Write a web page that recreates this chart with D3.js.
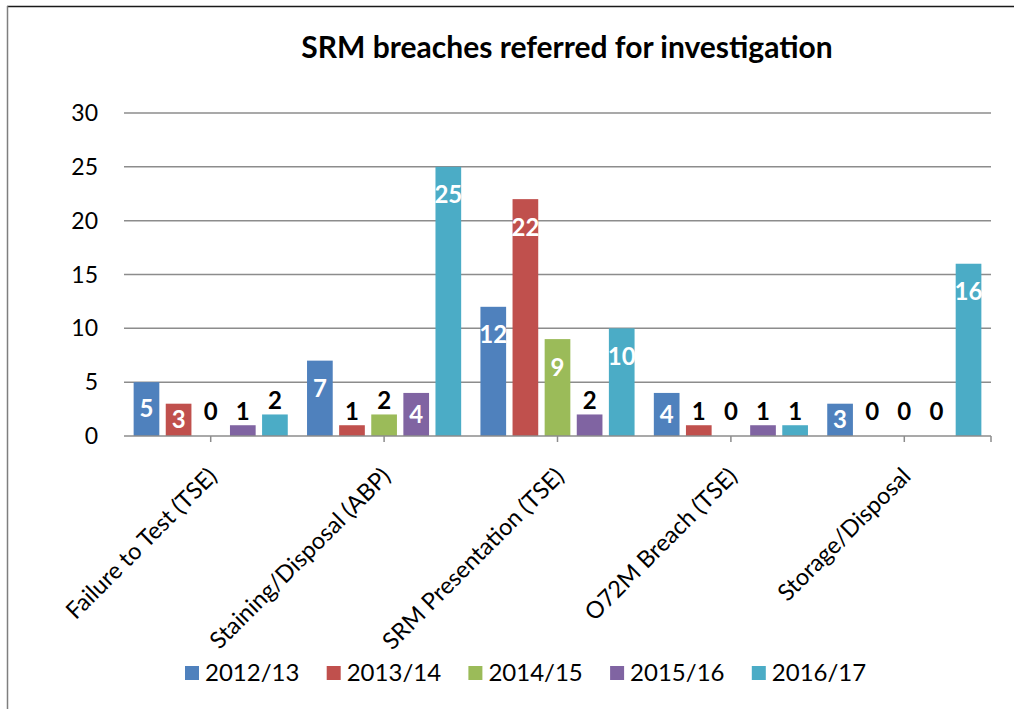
<!DOCTYPE html>
<html>
<head>
<meta charset="utf-8">
<script src="https://cdn.jsdelivr.net/npm/d3@7"></script>
<style>
  body { margin: 0; background: #fff; }
  svg { display: block; font-family: Lato, "Open Sans", sans-serif; }
</style>
</head>
<body>
<div id="chart"></div>
<script>
const categories = ["Failure to Test (TSE)", "Staining/Disposal (ABP)", "SRM Presentation (TSE)", "O72M Breach (TSE)", "Storage/Disposal"]
const seriesNames = ["2012/13", "2013/14", "2014/15", "2015/16", "2016/17"]
const values2012 = [5, 7, 12, 4, 3]
const values2013 = [3, 1, 22, 1, 0]
const values2014 = [0, 2, 9, 0, 0]
const values2015 = [1, 4, 2, 1, 0]
const values2016 = [2, 25, 10, 1, 16]
const yTicks = [0, 5, 10, 15, 20, 25, 30]
const colors = ["#4F81BD", "#C0504D", "#9BBB59", "#8064A2", "#4BACC6"]

const seriesValues = [values2012, values2013, values2014, values2015, values2016]
const data = categories.map((c, i) => ({
  category: c,
  values: seriesNames.map((s, j) => ({ series: s, value: seriesValues[j][i] }))
}))

const dimensions = {
  width: 1014,
  height: 709,
  margin: { top: 113, right: 23, bottom: 273, left: 124 }
}
dimensions.ctrWidth = dimensions.width - dimensions.margin.left - dimensions.margin.right
dimensions.ctrHeight = dimensions.height - dimensions.margin.top - dimensions.margin.bottom

const svg = d3.select("#chart")
  .append("svg")
  .attr("width", dimensions.width)
  .attr("height", dimensions.height)

// outer chart border
svg.append("line")
  .attr("x1", 7).attr("x2", 1014).attr("y1", 6.5).attr("y2", 6.5)
  .attr("stroke", "#1a1a1a").attr("stroke-width", 1.5)
svg.append("line")
  .attr("x1", 7.5).attr("x2", 7.5).attr("y1", 6).attr("y2", 709)
  .attr("stroke", "#7f7f7f").attr("stroke-width", 1.5)

svg.append("text")
  .attr("x", 567)
  .attr("y", 58)
  .attr("text-anchor", "middle")
  .attr("font-weight", "bold")
  .attr("font-size", 30)
  .text("SRM breaches referred for investigation")

const ctr = svg.append("g")
  .attr("transform", `translate(${dimensions.margin.left}, ${dimensions.margin.top})`)

const yScale = d3.scaleLinear()
  .domain([0, 30])
  .range([dimensions.ctrHeight, 0])

const xScale = d3.scaleBand()
  .domain(categories)
  .range([0, dimensions.ctrWidth])

const x1Scale = d3.scaleBand()
  .domain(seriesNames)
  .range([0, xScale.bandwidth()])
  .paddingInner(0.2)
  .paddingOuter(0.3)

const colorScale = d3.scaleOrdinal()
  .domain(seriesNames)
  .range(colors)

// gridlines
ctr.append("g")
  .selectAll("line")
  .data(yTicks.filter(d => d > 0))
  .join("line")
  .attr("x1", 0)
  .attr("x2", dimensions.ctrWidth)
  .attr("y1", d => yScale(d))
  .attr("y2", d => yScale(d))
  .attr("stroke", "#8c8c8c")
  .attr("stroke-width", 1.5)

// y labels
ctr.append("g")
  .selectAll("text")
  .data(yTicks)
  .join("text")
  .attr("x", -26)
  .attr("y", d => yScale(d))
  .attr("dy", "0.35em")
  .attr("text-anchor", "end")
  .attr("font-size", 23)
  .text(d => d)

const groups = ctr.selectAll(".group")
  .data(data)
  .join("g")
  .attr("class", "group")
  .attr("transform", d => `translate(${xScale(d.category)}, 0)`)

groups.selectAll("rect")
  .data(d => d.values)
  .join("rect")
  .attr("x", d => x1Scale(d.series))
  .attr("y", d => yScale(d.value))
  .attr("width", x1Scale.bandwidth())
  .attr("height", d => yScale(0) - yScale(d.value))
  .attr("fill", d => colorScale(d.series))

groups.selectAll("text")
  .data(d => d.values)
  .join("text")
  .attr("x", d => x1Scale(d.series) + x1Scale.bandwidth() / 2)
  .attr("y", d => {
    if (d.value >= 3) {
      return Math.min(yScale(d.value) + 28, (yScale(d.value) + yScale(0)) / 2)
    }
    return yScale(Math.max(d.value, 1)) - 14
  })
  .attr("dy", "0.35em")
  .attr("text-anchor", "middle")
  .attr("font-weight", "bold")
  .attr("font-size", 24)
  .attr("fill", d => d.value >= 3 ? "#fff" : "#000")
  .text(d => d.value)

// x axis
const xAxisG = ctr.append("g")
  .attr("transform", `translate(0, ${dimensions.ctrHeight})`)

xAxisG.append("line")
  .attr("x1", 0)
  .attr("x2", dimensions.ctrWidth)
  .attr("stroke", "#8c8c8c")
  .attr("stroke-width", 1.5)

xAxisG.selectAll(".tick")
  .data(categories)
  .join("line")
  .attr("class", "tick")
  .attr("x1", d => xScale(d) + xScale.bandwidth() / 2)
  .attr("x2", d => xScale(d) + xScale.bandwidth() / 2)
  .attr("y1", 0)
  .attr("y2", 6)
  .attr("stroke", "#8c8c8c")
  .attr("stroke-width", 1.5)

xAxisG.append("line")
  .attr("x1", dimensions.ctrWidth)
  .attr("x2", dimensions.ctrWidth)
  .attr("y1", 0)
  .attr("y2", 6)
  .attr("stroke", "#8c8c8c")
  .attr("stroke-width", 1.5)

xAxisG.selectAll(".label")
  .data(categories)
  .join("text")
  .attr("class", "label")
  .attr("text-anchor", "end")
  .attr("font-size", 23.5)
  .attr("dy", "0.35em")
  .attr("transform", d => `translate(${xScale(d) + xScale.bandwidth() / 2 + 2}, 36) rotate(-45)`)
  .text(d => d)

// legend
const legendScale = d3.scaleBand()
  .domain(seriesNames)
  .range([185, 185 + 5 * 141.7])

const legend = svg.append("g")
  .selectAll("g")
  .data(seriesNames)
  .join("g")
  .attr("transform", d => `translate(${legendScale(d)}, 666)`)

legend.append("rect")
  .attr("width", 14)
  .attr("height", 14)
  .attr("fill", d => colorScale(d))

legend.append("text")
  .attr("x", 20)
  .attr("y", 7)
  .attr("dy", "0.35em")
  .attr("font-size", 24)
  .text(d => d)
</script>
</body>
</html>
